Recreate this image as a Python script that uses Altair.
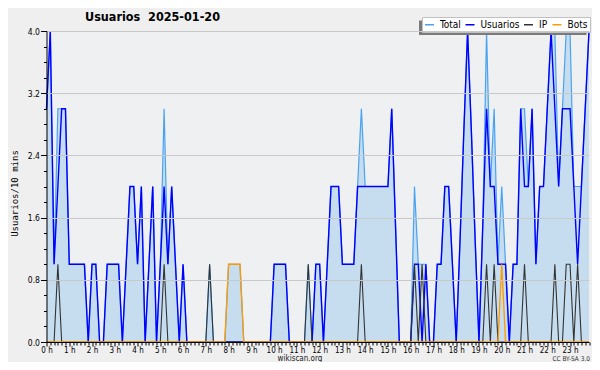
import altair as alt
import pandas as pd

# 10-minute slots over the day (0 .. 143)
slots = list(range(144))

usuarios = [
    3, 4, 1, 2, 3, 3, 1, 1, 1, 1, 1, 0,
    1, 1, 0, 0, 1, 1, 1, 1, 0, 1, 2, 2,
    1, 2, 0, 1, 2, 0, 1, 2, 1, 2, 1, 0,
    1, 0, 0, 0, 0, 0, 0, 0, 0, 0, 0, 0,
    0, 0, 0, 0, 0, 0, 0, 0, 0, 0, 0, 0,
    1, 1, 1, 1, 0, 0, 0, 0, 0, 0, 0, 1,
    1, 0, 1, 2, 2, 2, 1, 1, 1, 1, 2, 2,
    2, 2, 2, 2, 2, 2, 2, 3, 1.5, 0, 0, 0,
    0, 1, 1, 0, 1, 0, 0, 1, 1, 2, 2, 1,
    0, 1.3, 2.7, 4, 2.7, 1.3, 0, 1.5, 3, 2, 2, 1,
    1, 1, 0, 1, 1, 3, 2, 2, 3, 1, 2, 2,
    3, 4, 3, 2, 3, 3, 3, 2, 1, 2, 3, 4,
]

ip = [
    0, 0, 0, 1, 0, 0, 0, 0, 0, 0, 0, 0,
    0, 0, 0, 0, 0, 0, 0, 0, 0, 0, 0, 0,
    0, 0, 0, 0, 0, 0, 0, 1, 0, 0, 0, 0,
    0, 0, 0, 0, 0, 0, 0, 1, 0, 0, 0, 0,
    0, 0, 0, 0, 0, 0, 0, 0, 0, 0, 0, 0,
    0, 0, 0, 0, 0, 0, 0, 0, 0, 1, 0, 0,
    0, 0, 0, 0, 0, 0, 0, 0, 0, 0, 0, 1,
    0, 0, 0, 0, 0, 0, 0, 0, 0, 0, 0, 0,
    0, 1, 0, 1, 0, 0, 0, 0, 0, 0, 0, 0,
    0, 0, 0, 0, 0, 0, 0, 0, 1, 0, 1, 0,
    0, 0, 0, 0, 0, 0, 1, 0, 0, 0, 0, 0,
    0, 0, 1, 0, 0, 1, 1, 0, 1, 0, 0, 0,
]

bots = [
    0, 0, 0, 0, 0, 0, 0, 0, 0, 0, 0, 0,
    0, 0, 0, 0, 0, 0, 0, 0, 0, 0, 0, 0,
    0, 0, 0, 0, 0, 0, 0, 0, 0, 0, 0, 0,
    0, 0, 0, 0, 0, 0, 0, 0, 0, 0, 0, 0,
    1, 1, 1, 1, 0, 0, 0, 0, 0, 0, 0, 0,
    0, 0, 0, 0, 0, 0, 0, 0, 0, 0, 0, 0,
    0, 0, 0, 0, 0, 0, 0, 0, 0, 0, 0, 0,
    0, 0, 0, 0, 0, 0, 0, 0, 0, 0, 0, 0,
    0, 0, 0, 0, 0, 0, 0, 0, 0, 0, 0, 0,
    0, 0, 0, 0, 0, 0, 0, 0, 0, 0, 0, 0,
    1, 0, 0, 0, 0, 0, 0, 0, 0, 0, 0, 0,
    0, 0, 0, 0, 0, 0, 0, 0, 0, 0, 0, 0,
]

total = [
    3, 4, 1, 3, 3, 3, 1, 1, 1, 1, 1, 0,
    1, 1, 0, 0, 1, 1, 1, 1, 0, 1, 2, 2,
    1, 2, 0, 1, 2, 0, 1, 3, 1, 2, 1, 0,
    1, 0, 0, 0, 0, 0, 0, 1, 0, 0, 0, 0,
    1, 1, 1, 1, 0, 0, 0, 0, 0, 0, 0, 0,
    1, 1, 1, 1, 0, 0, 0, 0, 0, 1, 0, 1,
    1, 0, 1, 2, 2, 2, 1, 1, 1, 1, 2, 3,
    2, 2, 2, 2, 2, 2, 2, 3, 1.5, 0, 0, 0,
    0, 2, 1, 1, 1, 0, 0, 1, 1, 2, 2, 1,
    0, 1.3, 2.7, 4, 2.7, 1.3, 0, 1.5, 4, 2, 3, 1,
    2, 1, 0, 1, 1, 3, 3, 2, 3, 1, 2, 2,
    3, 4, 4, 2, 3, 4, 4, 2, 2, 2, 3, 4,
]

series = ["Total", "Usuarios", "IP", "Bots"]
series_colors = ["#4aa3f0", "#0000ff", "#333333", "#ff9900"]

title_text = "Usuarios\u00a0 2025-01-20"
y_title = "Usuarios/10 mins"
footer_text = "wikiscan.org"
license_text = "CC BY-SA 3.0"

FONT = "DejaVu Sans Condensed, DejaVu Sans"

df = pd.DataFrame({
    "slot": slots,
    "Total": total,
    "Usuarios": usuarios,
    "IP": ip,
    "Bots": bots,
})

x_axis = alt.Axis(
    values=slots,
    labelExpr="datum.value % 6 === 0 ? (datum.value / 6) + ' h' : ''",
    tickSize={"condition": {"test": "datum.value % 6 === 0", "value": 4}, "value": 3},
    tickColor="black",
    domainColor="black",
    labelColor="black",
    labelFont=FONT,
    labelFontSize=8,
    labelPadding=0,
    labelOverlap=False,
    labelFlush=False,
    grid=False,
    title=None,
    zindex=1,
)

y_vals = [round(0.2 * k, 1) for k in range(21)]
major = "round(datum.value * 5) % 4 === 0"
y_axis = alt.Axis(
    values=y_vals,
    labelExpr=major + " ? format(datum.value, '.1f') : ''",
    tickSize={"condition": {"test": major, "value": 6}, "value": 3},
    gridOpacity={"condition": {"test": major, "value": 1}, "value": 0},
    gridColor="#c8c8c8",
    tickColor="black",
    domainColor="black",
    labelColor="black",
    labelFont=FONT,
    labelFontSize=8.5,
    labelPadding=1,
    labelOverlap=False,
    title=y_title,
    titleFont="DejaVu Sans Mono",
    titleFontSize=9,
    titleFontWeight="normal",
    titleColor="black",
    titleX=-32.5,
    titleY=162,
    titleBaseline="middle",
    zindex=1,
)

xs = alt.Scale(domain=[0, 143], nice=False, zero=False)
ys = alt.Scale(domain=[0, 4], nice=False)
cscale = alt.Scale(domain=series, range=series_colors)
legend = alt.Legend(
    title=None,
    orient="none",
    legendX=375.5,
    legendY=-14,
    direction="horizontal",
    symbolType="stroke",
    symbolSize=81,
    symbolStrokeWidth=1.5,
    labelFont=FONT,
    labelFontSize=10,
    labelColor="black",
    fillColor="white",
    strokeColor="#c0c0c0",
    padding=2,
    columnPadding=1.5,
    labelOffset=5,
)

base = alt.Chart(df)

area = base.mark_area(color="#c6ddf0", opacity=1).encode(
    x=alt.X("slot:Q", scale=xs, axis=x_axis),
    y=alt.Y("Total:Q", scale=ys, axis=y_axis),
)


def line(name, width):
    return base.transform_calculate(serie=f"'{name}'").mark_line(strokeWidth=width).encode(
        x=alt.X("slot:Q", scale=xs, axis=x_axis),
        y=alt.Y(f"{name}:Q", scale=ys, axis=y_axis),
        color=alt.Color("serie:N", scale=cscale, legend=legend),
    )


l_total = line("Total", 1.2)
l_user = line("Usuarios", 1.4)
l_ip = line("IP", 1.1)
l_bots = line("Bots", 1.3)

title_mark = alt.Chart(pd.DataFrame({"t": [title_text]})).mark_text(
    align="left", baseline="alphabetic", font=FONT, fontSize=12.5,
    fontWeight="bold", color="black",
).encode(text="t:N", x=alt.value(38.5), y=alt.value(-10.3))

footer_mark = alt.Chart(pd.DataFrame({"t": [footer_text]})).mark_text(
    align="center", baseline="alphabetic", font=FONT, fontSize=8, color="#222222",
).encode(text="t:N", x=alt.value(253.5), y=alt.value(329.5))

license_mark = alt.Chart(pd.DataFrame({"t": [license_text]})).mark_text(
    align="right", baseline="alphabetic", font=FONT, fontSize=6.5, color="#333333",
).encode(text="t:N", x=alt.value(543.5), y=alt.value(329.5))

shadow = alt.Chart(pd.DataFrame({"a": [0]})).mark_rect(color="#7a7a7a").encode(
    x=alt.value(372.5), x2=alt.value(540), y=alt.value(-10.5), y2=alt.value(4)
)

chart = alt.layer(
    area, l_total, l_user, l_ip, l_bots, shadow, title_mark, footer_mark, license_mark
).properties(
    width=542.5,
    height=311,
    padding={"left": 38.5, "top": 23, "right": 3, "bottom": 20},
    autosize=alt.AutoSizeParams(type="none"),
    background="#efefef",
).configure_view(fill="#eef0f2", stroke=None)

chart.save("out.html", embed_options={"renderer": "svg", "actions": False})
